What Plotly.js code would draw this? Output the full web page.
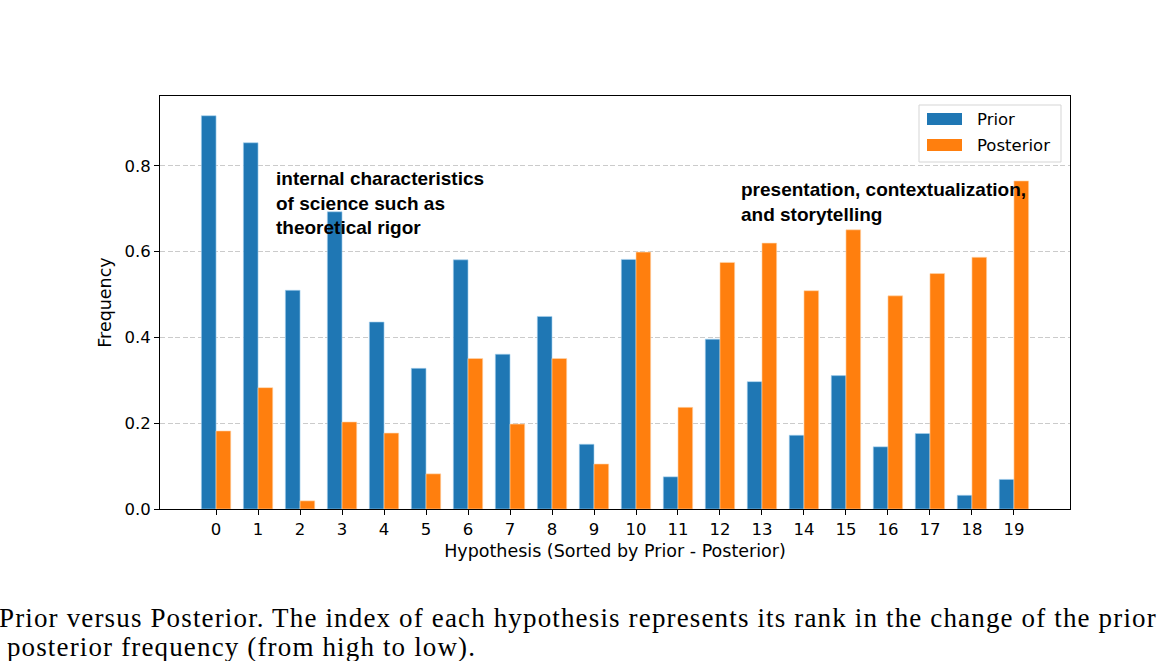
<!DOCTYPE html>
<html>
<head>
<meta charset="utf-8">
<script src="https://cdn.plot.ly/plotly-3.0.1.min.js"></script>
<style>
html,body{margin:0;padding:0;background:#fff;}
#chart{width:1164px;height:661px;}
.annotation[data-index="2"] text, .annotation[data-index="3"] text {letter-spacing:1.15px;}
</style>
</head>
<body>
<div id="chart"></div>
<script>
const hypotheses = [0,1,2,3,4,5,6,7,8,9,10,11,12,13,14,15,16,17,18,19];
const tickLabels = hypotheses.map(String);
const prior = [0.917,0.854,0.510,0.693,0.436,0.328,0.581,0.361,0.449,0.151,0.582,0.075,0.396,0.297,0.172,0.311,0.145,0.176,0.032,0.069];
const posterior = [0.182,0.283,0.019,0.203,0.177,0.082,0.351,0.198,0.351,0.105,0.599,0.237,0.575,0.620,0.509,0.651,0.497,0.549,0.587,0.765];
const seriesNames = ["Prior","Posterior"];
const seriesColors = ["#1f77b4","#ff7f0e"];
const yTicks = [0,0.2,0.4,0.6,0.8];
const yTickLabels = ["0.0","0.2","0.4","0.6","0.8"];
const noteLeft = "internal characteristics<br>of science such as<br>theoretical rigor";
const noteRight = "presentation, contextualization,<br>and storytelling";
const caption1 = "Prior versus Posterior. The index of each hypothesis represents its rank in the change of the prior";
const caption2 = " posterior frequency (from high to low).";

const FS = 16.5;
const axisFont = {family: "DejaVu Sans, sans-serif", size: FS, color: "#000"};
const titleFont = {family: "DejaVu Sans, sans-serif", size: 17.5, color: "#000"};

// pixel helpers for the plot frame (margin l=160,t=96, plot 910x413)
const PX = px => (px - 160) / 910;
const PY = py => (509 - py) / 413;

const traces = [
  {type: "bar", x: hypotheses, y: prior, name: seriesNames[0], showlegend: false,
   marker: {color: seriesColors[0], line: {color: "#a9d3f0", width: 0.6}}},
  {type: "bar", x: hypotheses, y: posterior, name: seriesNames[1], showlegend: false,
   marker: {color: seriesColors[1], line: {color: "#ffd9b0", width: 0.6}}}
];

const shapes = [
  {type: "rect", xref: "paper", yref: "paper", x0: PX(919), x1: PX(1061), y0: PY(162), y1: PY(105),
   line: {color: "#d5d5d5", width: 1}, fillcolor: "rgba(255,255,255,0.85)", layer: "above"},
  {type: "rect", xref: "paper", yref: "paper", x0: PX(927), x1: PX(962), y0: PY(125), y1: PY(113),
   line: {width: 0}, fillcolor: seriesColors[0], layer: "above"},
  {type: "rect", xref: "paper", yref: "paper", x0: PX(927), x1: PX(962), y0: PY(151), y1: PY(139),
   line: {width: 0}, fillcolor: seriesColors[1], layer: "above"}
];

const layout = {
  width: 1164, height: 661,
  margin: {l: 160, r: 94, t: 96, b: 152},
  paper_bgcolor: "#fff", plot_bgcolor: "#fff",
  barmode: "group", bargap: 0.3, bargroupgap: 0,
  showlegend: false,
  xaxis: {
    range: [-1.335, 20.335], tickmode: "array", tickvals: hypotheses, ticktext: tickLabels,
    ticks: "outside", ticklen: 5, tickwidth: 1, tickcolor: "#000",
    showgrid: false, zeroline: false,
    showline: true, linecolor: "#000", linewidth: 1, mirror: true,
    tickfont: axisFont,
    title: {text: "Hypothesis (Sorted by Prior - Posterior)", font: titleFont, standoff: 6}
  },
  yaxis: {
    range: [0, 0.963], tickmode: "array", tickvals: yTicks, ticktext: yTickLabels,
    ticks: "outside", ticklen: 5, tickwidth: 1, tickcolor: "#000",
    showgrid: true, gridcolor: "#cbcbcb", griddash: "5px,2.5px", gridwidth: 1,
    zeroline: false,
    showline: true, linecolor: "#000", linewidth: 1, mirror: true,
    tickfont: axisFont,
    title: {text: "Frequency", font: titleFont, standoff: 8}
  },
  shapes: shapes,
  annotations: [
    {xref: "x", yref: "y", x: 1.38, y: 0.80, xanchor: "left", yanchor: "top", align: "left",
     showarrow: false, text: "<b>" + noteLeft + "</b>",
     font: {family: "Liberation Sans, Arial, sans-serif", size: 19, color: "#000"}},
    {xref: "x", yref: "y", x: 12.45, y: 0.774, xanchor: "left", yanchor: "top", align: "left",
     showarrow: false, text: "<b>" + noteRight + "</b>",
     font: {family: "Liberation Sans, Arial, sans-serif", size: 19, color: "#000"}},
    {xref: "paper", yref: "paper", x: PX(-3), y: -0.222, xanchor: "left", yanchor: "top", align: "left",
     showarrow: false, text: caption1,
     font: {family: "Liberation Serif, Times New Roman, serif", size: 27, color: "#000"}},
    {xref: "paper", yref: "paper", x: PX(-3), y: -0.292, xanchor: "left", yanchor: "top", align: "left",
     showarrow: false, text: caption2,
     font: {family: "Liberation Serif, Times New Roman, serif", size: 27, color: "#000"}},
    {xref: "paper", yref: "paper", x: PX(975), y: PY(119), xanchor: "left", yanchor: "middle", align: "left",
     showarrow: false, text: seriesNames[0], font: axisFont},
    {xref: "paper", yref: "paper", x: PX(975), y: PY(145), xanchor: "left", yanchor: "middle", align: "left",
     showarrow: false, text: seriesNames[1], font: axisFont}
  ]
};

Plotly.newPlot("chart", traces, layout, {displayModeBar: false, responsive: false});
</script>
</body>
</html>
